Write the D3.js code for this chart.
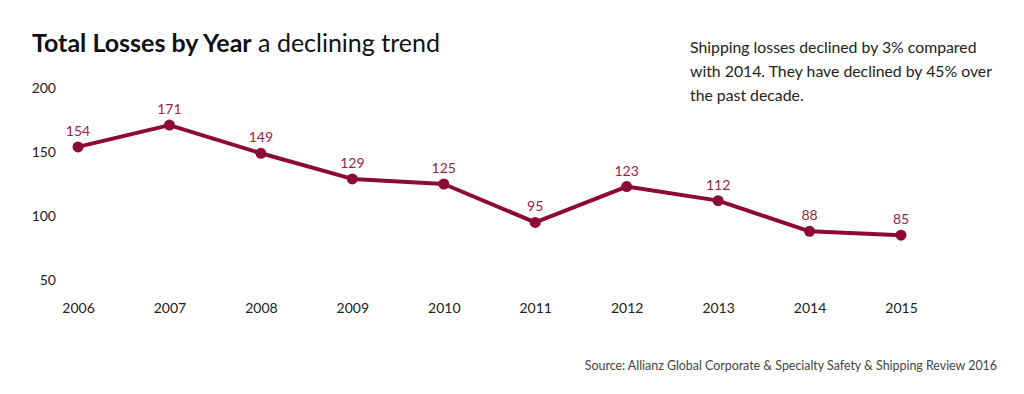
<!DOCTYPE html>
<html><head><meta charset="utf-8">
<script src="https://cdn.jsdelivr.net/npm/d3@7"></script>
<style>
body{margin:0;background:#fff;}
svg{display:block;font-family:Lato,"Noto Sans",sans-serif;}
</style></head>
<body><svg id="c" width="1024" height="394"></svg>
<script>
const years = [2006,2007,2008,2009,2010,2011,2012,2013,2014,2015];
const losses = [154,171,149,129,125,95,123,112,88,85];
const yTicks = [50,100,150,200];
const title = "Total Losses by Year";
const subtitle = " a declining trend";
const note = ["Shipping losses declined by 3% compared","with 2014. They have declined by 45% over","the past decade."];
const source = "Source: Allianz Global Corporate & Specialty Safety & Shipping Review 2016";

const svg = d3.select("#c");
const col = "#8c0a33";
const x = d3.scalePoint().domain(years).range([78,901]);
const y = d3.scaleLinear().domain([50,200]).range([280,88]);

const t = svg.append("text").attr("x",32).attr("y",52).attr("fill","#111").style("font-size","25px");
t.append("tspan").attr("font-weight","bold").text(title);
t.append("tspan").attr("font-weight","normal").text(subtitle);

svg.append("g").selectAll("text").data(note).join("text")
  .attr("x",690).attr("y",(d,i)=>53+i*24).attr("fill","#222").style("font-size","15.8px").text(d=>d);

const ya = svg.append("g").attr("transform","translate(56,0)")
  .call(d3.axisLeft(y).tickValues(yTicks).tickSize(0).tickPadding(0));
ya.select(".domain").remove();
ya.selectAll("text").style("font-size","14px").attr("fill","#222").style("font-family","Lato,'Noto Sans',sans-serif");

const xa = svg.append("g").attr("transform","translate(0,303)")
  .call(d3.axisBottom(x).tickSize(0).tickPadding(0).tickFormat(d3.format("d")));
xa.select(".domain").remove();
xa.selectAll("text").style("font-size","14px").attr("fill","#222").style("font-family","Lato,'Noto Sans',sans-serif");

const data = years.map((yr,i)=>({yr,v:losses[i]}));
svg.append("path").datum(data)
  .attr("d",d3.line().x(d=>x(d.yr)).y(d=>y(d.v)))
  .attr("fill","none").attr("stroke",col).attr("stroke-width",4).attr("stroke-linejoin","round");
svg.append("g").selectAll("circle").data(data).join("circle")
  .attr("cx",d=>x(d.yr)).attr("cy",d=>y(d.v)).attr("r",5.5).attr("fill",col);
svg.append("g").selectAll("text").data(data).join("text")
  .attr("x",d=>x(d.yr)).attr("y",d=>y(d.v)-11).attr("text-anchor","middle")
  .attr("fill","#9a2448").style("font-size","14px").text(d=>d.v);

svg.append("text").attr("x",997).attr("y",370).attr("text-anchor","end")
  .attr("fill","#444").style("font-size","12.4px").text(source);
</script></body></html>
